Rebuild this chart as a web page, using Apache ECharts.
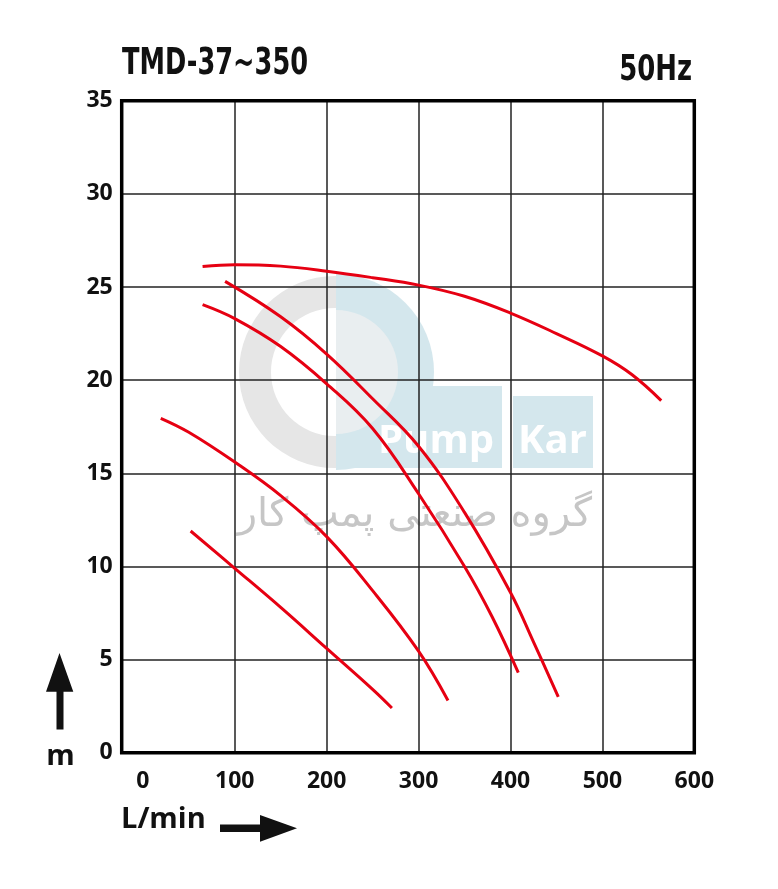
<!DOCTYPE html>
<html>
<head>
<meta charset="utf-8">
<script src="https://cdn.jsdelivr.net/npm/echarts@6/dist/echarts.min.js"></script>
<style>
html,body{margin:0;padding:0;background:#fff;}
#chart{width:778px;height:889px;}
</style>
</head>
<body>
<div id="chart"></div>
<script>
// ---- data (flow L/min, head m) ----
var curve37  = [[52,11.9],[100,9.9],[150,7.8],[200,5.6],[250,3.4],[271,2.4]];
var curve75  = [[19.5,17.95],[50,17.2],[100,15.6],[150,13.8],[200,11.6],[250,8.7],[300,5.45],[332,2.8]];
var curve150 = [[65,24.05],[100,23.3],[150,21.8],[200,19.8],[250,17.4],[300,13.9],[350,10.0],[380,7.3],[408.5,4.3]];
var curve220 = [[89.5,25.3],[150,23.4],[200,21.4],[250,19.0],[300,16.45],[350,12.9],[400,8.6],[425,5.95],[452,3.0]];
var curve350 = [[65,26.1],[100,26.2],[150,26.12],[200,25.85],[250,25.5],[300,25.1],[350,24.5],[400,23.6],[450,22.5],[500,21.3],[532,20.3],[564,18.9]];
var curveNames = ['37','75','150','220','350'];
var labelFlow = [69,137,261,244,454];
var labelHead = [8.3,12.1,13.8,21.2,23.8];
var xTickLabels = [0,100,200,300,400,500,600];
var xGridValues = [100,200,300,400,500];
var yMin = 0, yMax = 35, yStep = 5;
var xMin = -23, xMax = 600;
var titleText = 'TMD-37~350';
var freqText = '50Hz';
var xName = 'L/min';
var yName = 'm';

var RED = '#e60012';
var curves = [curve37, curve75, curve150, curve220, curve350];

var chart = echarts.init(document.getElementById('chart'), null, {renderer:'canvas'});

var series = curves.map(function(c, i){
  return {
    type:'line', name: curveNames[i], data:c, smooth:0.4, symbol:'none',
    lineStyle:{color:RED, width:3}, z:5, silent:true
  };
});
series.push({
  type:'scatter', symbolSize:1, itemStyle:{opacity:0}, z:6, silent:true,
  data: labelFlow.map(function(x,i){ return {value:[x,labelHead[i]], name:curveNames[i]}; }),
  label:{show:true, position:'inside', formatter:function(p){return p.name;},
         color:'#111', fontSize:23, fontWeight:'bold', fontFamily:'Open Sans'}
});

var wmBlue = '#d4e7ed';
var wmGray = '#e6e6e6';

var option = {
  backgroundColor:'#fff',
  animation:false,
  grid:{left:121.7, right:83.7, top:100.7, bottom:136.3, show:true,
        borderColor:'#000', borderWidth:3.5, backgroundColor:'transparent', z:3},
  xAxis:{
    type:'value', min:xMin, max:xMax,
    axisLine:{show:false},
    axisTick:{show:false, customValues:xGridValues},
    axisLabel:{customValues:xTickLabels, color:'#111', fontSize:23, fontWeight:'bold',
               fontFamily:'Open Sans', margin:17},
    splitLine:{show:true, lineStyle:{color:'#222', width:1.5}}
  },
  yAxis:{
    type:'value', min:yMin, max:yMax, interval:yStep,
    axisLine:{show:false}, axisTick:{show:false},
    axisLabel:{color:'#111', fontSize:23, fontWeight:'bold', fontFamily:'Open Sans', margin:9},
    splitLine:{show:true, lineStyle:{color:'#222', width:1.5}}
  },
  graphic:[
    // watermark
    {type:'ring', z:-10, shape:{cx:335, cy:372, r:96, r0:64}, style:{fill:wmGray}},
    {type:'sector', z:-9, shape:{cx:336, cy:372, r:98, r0:0, startAngle:-Math.PI/2, endAngle:Math.PI/2}, style:{fill:wmBlue}},
    {type:'sector', z:-8, shape:{cx:336, cy:372, r:62, r0:0, startAngle:-Math.PI/2, endAngle:Math.PI/2}, style:{fill:'#e9eef0'}},
    {type:'rect', z:-9, shape:{x:336, y:386, width:166, height:82}, style:{fill:wmBlue}},
    {type:'rect', z:-9, shape:{x:513, y:396, width:80, height:72}, style:{fill:wmBlue}},
    {type:'text', z:-7, style:{x:378, y:442, text:'Pump', fill:'#fff', font:'bold 40px "Open Sans"', textVerticalAlign:'middle'}},
    {type:'text', z:-7, style:{x:518, y:442, text:'Kar', fill:'#fff', font:'bold 40px "Open Sans"', textVerticalAlign:'middle'}},
    {type:'text', z:-7, style:{x:592, y:516, text:'گروه صنعتی پمپ کار', fill:'#c6c6c6', font:'40px "DejaVu Sans"', textAlign:'right', textVerticalAlign:'middle'}},
    // titles
    {type:'text', x:122, y:46, scaleX:0.77, style:{x:0, y:0, text:titleText, fill:'#111', font:'bold 37px "Liberation Sans Narrow", "DejaVu Sans Condensed", sans-serif'}},
    {type:'text', x:692, y:53, scaleX:0.8, style:{x:0, y:0, text:freqText, fill:'#111', textAlign:'right', font:'bold 36px "Liberation Sans Narrow", "DejaVu Sans Condensed", sans-serif'}},
    // axis names and arrows
    {type:'text', left:121, top:805, style:{text:xName, fill:'#111', font:'bold 29px "Open Sans"'}},
    {type:'text', style:{x:60.5, y:757, text:yName, fill:'#111', font:'bold 29px "Open Sans"', textAlign:'center', textVerticalAlign:'middle'}},
    {type:'polygon', shape:{points:[[220,824.5],[260,824.5],[260,815],[297,828.3],[260,841.7],[260,832],[220,832]]}, style:{fill:'#111'}},
    {type:'polygon', shape:{points:[[56.5,729.5],[56.5,691.7],[46,691.7],[59.5,653],[73.3,691.7],[63.5,691.7],[63.5,729.5]]}, style:{fill:'#111'}}
  ],
  series:series
};
chart.setOption(option);
</script>
</body>
</html>
